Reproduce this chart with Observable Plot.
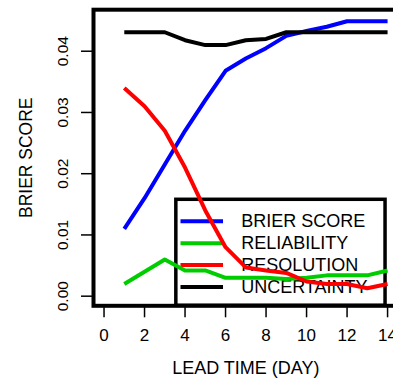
<!DOCTYPE html>
<html>
<head>
<meta charset="utf-8">
<script src="https://cdn.jsdelivr.net/npm/d3@7"></script>
<script src="https://cdn.jsdelivr.net/npm/@observablehq/plot@0.6"></script>
<style>
  html, body { margin: 0; padding: 0; background: #fff; overflow: hidden; }
  #chart { width: 393px; height: 383px; overflow: hidden; }
  #chart svg { max-width: none !important; height: 383px !important; display: block; }
</style>
</head>
<body>
<div id="chart"></div>
<script>
// ---- data ----
const leadTime = [1, 2, 3, 4, 5, 6, 7, 8, 9, 10, 11, 12, 13, 14];
const brierScore  = [0.011, 0.016, 0.0215, 0.027, 0.032, 0.0368, 0.0388, 0.0405, 0.0425, 0.0433, 0.044, 0.0449, 0.0449, 0.0449];
const reliability = [0.002, 0.004, 0.006, 0.0042, 0.0042, 0.003, 0.003, 0.003, 0.0028, 0.003, 0.0034, 0.0034, 0.0034, 0.0042];
const resolution  = [0.034, 0.031, 0.027, 0.021, 0.014, 0.008, 0.0047, 0.0042, 0.0038, 0.0024, 0.002, 0.002, 0.0013, 0.002];
const uncertainty = [0.0431, 0.0431, 0.0431, 0.0418, 0.041, 0.041, 0.0418, 0.042, 0.0431, 0.0431, 0.0431, 0.0431, 0.0431, 0.0431];

const seriesNames = ["BRIER SCORE", "RELIABILITY", "RESOLUTION", "UNCERTAINTY"];
const seriesColors = ["#0000ff", "#00cd00", "#ff0000", "#000000"];
const seriesValues = [brierScore, reliability, resolution, uncertainty];

const xTicks = [0, 2, 4, 6, 8, 10, 12, 14];
const yTicks = [0.00, 0.01, 0.02, 0.03, 0.04];
const xTitle = "LEAD TIME (DAY)";
const yTitle = "BRIER SCORE";

// ---- layout (in data units for legend placement) ----
const xDomain = [-0.52, 14.52];
const yDomain = [-0.00157, 0.04678];
const legendBox = {x1: 3.57, x2: 13.9, top: 0.01574};
const legendRowTop = 0.01224, legendStep = 0.00358;
const legendLineX = [3.8, 5.9], legendTextX = 6.77;

const lineData = seriesNames.flatMap((name, i) =>
  leadTime.map((t, j) => ({series: name, order: i, t, v: seriesValues[i][j]})));
const legendData = seriesNames.map((name, i) => ({
  name, color: seriesColors[i], y: legendRowTop - i * legendStep
}));

const font = "'Liberation Sans', Arial, Helvetica, sans-serif";

const chart = Plot.plot({
  width: 400,
  height: 383,
  marginLeft: 93,
  marginRight: 2.4,
  marginTop: 9.2,
  marginBottom: 77.7,
  style: {fontFamily: font, fontSize: "17px", background: "#fff", color: "#000", maxWidth: "none"},
  x: {domain: xDomain, label: null},
  y: {domain: yDomain, label: null},
  marks: [
    // legend box and entries
    Plot.rect([legendBox], {x1: "x1", x2: "x2", y1: () => yDomain[0], y2: "top", fill: "white", stroke: "black", strokeWidth: 3.5}),
    Plot.ruleY(legendData, {y: "y", x1: legendLineX[0], x2: legendLineX[1], stroke: "color", strokeWidth: 4}),
    Plot.text(legendData, {x: legendTextX, y: "y", text: "name", textAnchor: "start", fontSize: 18}),
    // series lines
    ...seriesNames.map((name, i) =>
      Plot.line(lineData.filter(d => d.series === name), {x: "t", y: "v", stroke: seriesColors[i], strokeWidth: 4, strokeLinejoin: "round", strokeLinecap: "butt"})
    ),
    // axes
    Plot.axisX(xTicks, {tickSize: 12, tickPadding: 11, strokeWidth: 1.5, tickFormat: d => String(d), fontSize: 17}),
    Plot.axisY(yTicks, {tickSize: 12, strokeWidth: 1.5, tickFormat: () => ""}),
    Plot.text(yTicks, {y: d => d, text: d => d.toFixed(2), frameAnchor: "left", textAnchor: "middle", dx: -30, rotate: -90, fontSize: 15.5}),
    Plot.text([xTitle], {frameAnchor: "bottom", textAnchor: "middle", dy: 68, fontSize: 18}),
    Plot.text([yTitle], {frameAnchor: "left", textAnchor: "middle", dx: -67, rotate: -90, fontSize: 17.5}),
    Plot.frame({stroke: "black", strokeWidth: 4})
  ]
});
document.getElementById("chart").appendChild(chart);
</script>
</body>
</html>
